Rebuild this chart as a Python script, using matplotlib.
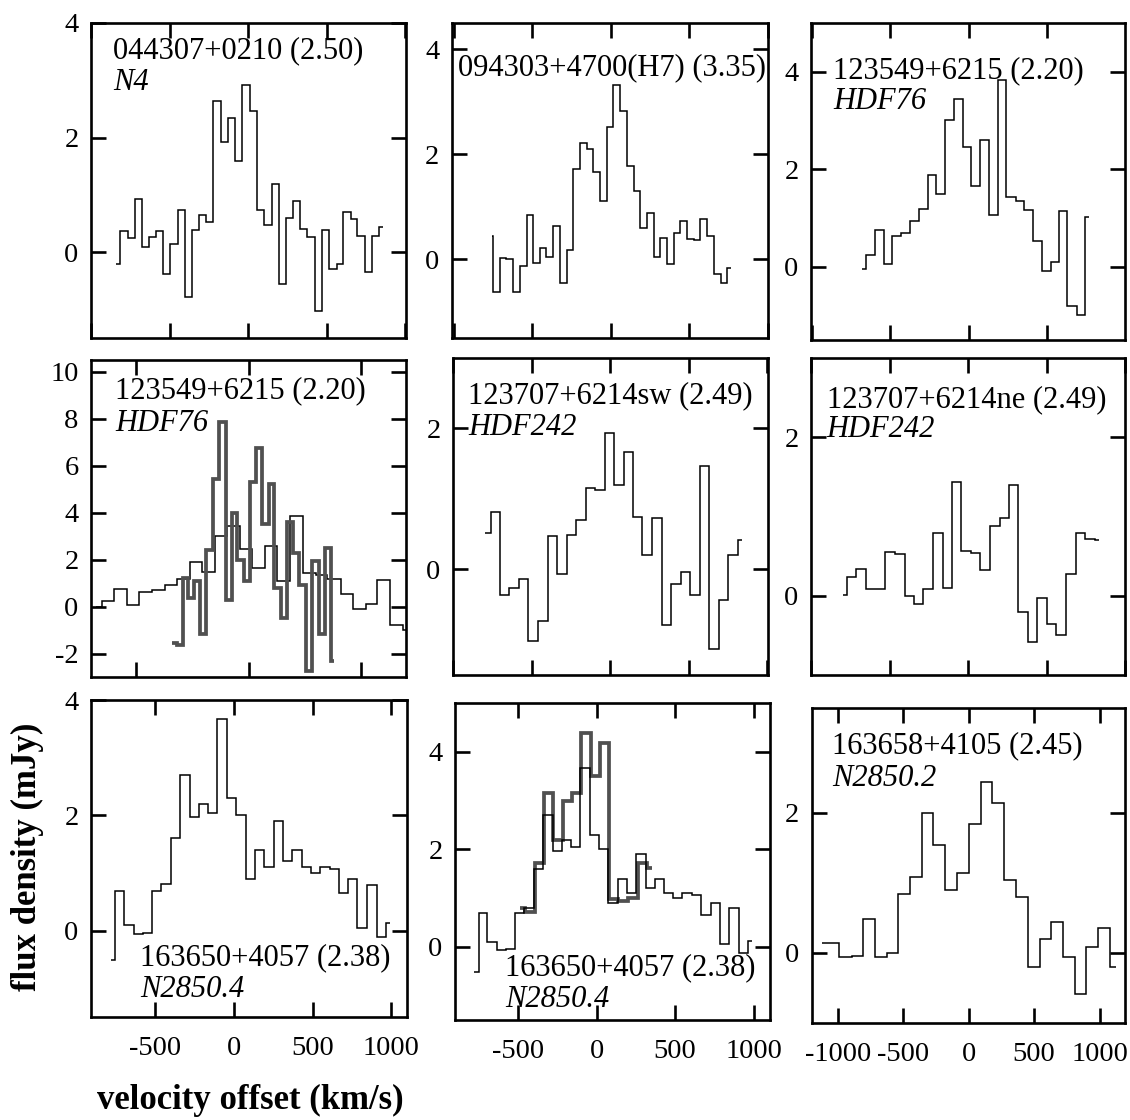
import matplotlib
matplotlib.use("Agg")
import matplotlib.pyplot as plt
from matplotlib.ticker import MultipleLocator

plt.rcParams['font.family'] = ['Liberation Serif', 'DejaVu Serif']
plt.rcParams['axes.unicode_minus'] = False

# channel edges (km/s) and flux densities (mJy)
v_0443 = [-838, -813, -766, -722, -673, -631, -584, -541, -495, -446, -399, -355, -312,
          -265, -223, -174, -127, -81, -36, 11, 57, 102, 149, 195, 240, 287, 333, 376,
          425, 469, 514, 563, 605, 652, 696, 743, 786, 832, 860]
f_0443 = [-0.20, 0.36, 0.24, 0.92, 0.09, 0.27, 0.37, -0.38, 0.14, 0.74, -0.79, 0.39, 0.64,
          0.52, 2.64, 1.93, 2.34, 1.59, 2.91, 2.47, 0.74, 0.47, 1.19, -0.56, 0.60, 0.90,
          0.40, 0.26, -1.03, 0.39, -0.29, -0.21, 0.70, 0.58, 0.28, -0.34, 0.28, 0.43]

v_0943 = [-753, -749, -707, -664, -621, -579, -536, -494, -451, -409, -366, -323, -281,
          -238, -196, -153, -111, -68, -26, 17, 60, 102, 145, 187, 230, 272, 315, 358,
          400, 443, 485, 528, 570, 613, 655, 698, 741, 762]
f_0943 = [0.45, -0.62, 0.02, 0.00, -0.63, -0.12, 0.84, -0.08, 0.21, 0.05, 0.63, -0.46,
          0.18, 1.71, 2.22, 2.10, 1.67, 1.11, 2.52, 3.31, 2.83, 1.78, 1.30, 0.59, 0.88,
          0.04, 0.40, -0.09, 0.50, 0.72, 0.38, 0.36, 0.77, 0.45, -0.28, -0.46, -0.17]

v_hdf76 = [-679, -653, -598, -541, -487, -430, -372, -317, -262, -206, -149, -94, -40, 17,
           74, 128, 185, 240, 298, 351, 411, 464, 521, 572, 628, 687, 741, 768]
f_hdf76 = [-0.04, 0.24, 0.75, 0.05, 0.63, 0.70, 0.93, 1.18, 1.88, 1.49, 3.02, 3.45, 2.46,
           1.66, 2.60, 1.07, 3.84, 1.43, 1.36, 1.16, 0.53, -0.09, 0.10, 1.15, -0.80,
           -0.98, 1.02]

# higher resolution HDF76 spectrum (thick grey)
v_hdf76_hr = [-341, -319, -292, -267, -241, -215, -188, -156, -130, -101, -74, -49, -19, 7,
              33, 62, 89, 114, 144, 170, 196, 225, 255, 284, 314, 341, 367, 378]
f_hdf76_hr = [-1.55, -1.62, 1.20, 0.38, 1.07, -1.15, 2.40, 5.45, 7.85, 0.30, 4.00, 1.97,
              1.10, 5.30, 6.75, 3.50, 5.20, 0.80, -0.50, 3.60, 2.30, 0.90, -2.75, 1.95,
              -1.15, 2.50, -2.30]

v_sw = [-794, -760, -702, -643, -581, -521, -458, -398, -340, -277, -219, -155, -96, -32,
        26, 89, 145, 206, 266, 330, 387, 451, 511, 570, 632, 692, 749, 813, 841]
f_sw = [0.51, 0.81, -0.37, -0.26, -0.14, -1.02, -0.74, 0.47, -0.06, 0.49, 0.70, 1.15,
        1.12, 1.93, 1.20, 1.67, 0.74, 0.21, 0.73, -0.79, -0.21, -0.04, -0.37, 1.47,
        -1.13, -0.44, 0.20, 0.41]

v_ne = [-796, -769, -711, -648, -588, -527, -467, -403, -344, -287, -223, -159, -100, -42,
        21, 79, 138, 202, 261, 318, 382, 441, 503, 563, 626, 686, 747, 807, 834]
f_ne = [0.01, 0.24, 0.34, 0.08, 0.08, 0.55, 0.53, 0.00, -0.11, 0.08, 0.79, 0.10, 1.44,
        0.56, 0.54, 0.32, 0.88, 0.98, 1.40, -0.21, -0.58, -0.03, -0.36, -0.49, 0.27,
        0.79, 0.72, 0.70]

v_4057 = [-785, -755, -700, -639, -579, -520, -462, -403, -342, -282, -225, -165, -106,
          -45, 15, 74, 132, 191, 252, 312, 371, 429, 488, 545, 609, 666, 726, 785, 846,
          906, 965, 991]
f_4057 = [-0.51, 0.69, 0.09, -0.06, -0.05, 0.69, 0.80, 1.60, 2.70, 1.97, 2.20, 2.04, 3.67,
          2.30, 2.00, 0.89, 1.39, 1.10, 1.90, 1.20, 1.39, 1.10, 1.00, 1.10, 1.06, 0.65,
          0.89, 0.05, 0.79, -0.12, 0.13]

v_4057_hr = [-489, -458, -394, -340, -277, -217, -160, -100, -36, 21, 79, 138, 202, 260,
             319, 351]
f_4057_hr = [0.80, 0.71, 1.71, 3.16, 2.19, 3.00, 3.15, 4.38, 3.51, 4.19, 0.99, 0.95, 1.01,
             1.71, 1.61]

v_4105 = [-1126, -991, -897, -808, -719, -629, -540, -451, -362, -273, -183, -94, 0, 92,
          181, 270, 359, 454, 543, 632, 721, 810, 899, 989, 1078, 1129]
f_4105 = [0.14, -0.05, -0.04, 0.49, -0.05, 0.00, 0.85, 1.09, 2.00, 1.55, 0.90, 1.15, 1.85,
          2.45, 2.15, 1.04, 0.80, -0.20, 0.20, 0.45, -0.05, -0.59, 0.09, 0.36, -0.20]

W, H = 1130, 1120
THIN = dict(color='black', lw=1.1)
THICK = dict(color='#505050', lw=2.7)

# (pixel box, xlim, ylim, thin spectrum, thick spectrum, label1, label2, text x, y1, y2)
panels = [
    ((91, 23, 406, 338), (-1000, 1005), (-1.5, 4), (v_0443, f_0443), None,
     "044307+0210 (2.50)", "N4", 0.07, 0.889, 0.787),
    ((452, 23, 768, 338), (-1010, 1000), (-1.5, 4.5), (v_0943, f_0943), None,
     "094303+4700(H7) (3.35)", None, 0.02, 0.835, None),
    ((811, 23, 1125, 340), (-1005, 995), (-1.5, 5), (v_hdf76, f_hdf76), None,
     "123549+6215 (2.20)", "HDF76", 0.07, 0.826, 0.730),
    ((91, 360, 406, 677), (-700, 700), (-3, 10.5), (v_hdf76, f_hdf76), (v_hdf76_hr, f_hdf76_hr),
     "123549+6215 (2.20)", "HDF76", 0.076, 0.880, 0.776),
    ((453, 358, 768, 675), (-1000, 1005), (-1.5, 3), (v_sw, f_sw), None,
     "123707+6214sw (2.49)", "HDF242", 0.048, 0.858, 0.757),
    ((811, 358, 1125, 675), (-1000, 1000), (-1, 3), (v_ne, f_ne), None,
     "123707+6214ne (2.49)", "HDF242", 0.05, 0.845, 0.750),
    ((91, 700, 407, 1017), (-910, 1100), (-1.5, 4), (v_4057, f_4057), None,
     "163650+4057 (2.38)", "N2850.4", 0.155, 0.164, 0.063),
    ((455, 703, 770, 1020), (-905, 1105), (-1.5, 5), (v_4057, f_4057), (v_4057_hr, f_4057_hr),
     "163650+4057 (2.38)", "N2850.4", 0.159, 0.142, 0.041),
    ((812, 708, 1125, 1023), (-1200, 1195), (-1, 3.5), (v_4105, f_4105), None,
     "163658+4105 (2.45)", "N2850.2", 0.064, 0.857, 0.752),
]

fig = plt.figure(figsize=(W / 100, H / 100), dpi=100)

for i, (box, xl, yl, thin, thick, lab1, lab2, tx, ty1, ty2) in enumerate(panels):
    x0, y0, x1, y1 = box
    ax = fig.add_axes([x0 / W, 1 - y1 / H, (x1 - x0) / W, (y1 - y0) / H])
    if thick is not None and i == 7:
        ax.stairs(thick[1], thick[0], baseline=None, **THICK)
        ax.stairs(thin[1], thin[0], baseline=None, **THIN)
    else:
        ax.stairs(thin[1], thin[0], baseline=None, **THIN)
        if thick is not None:
            ax.stairs(thick[1], thick[0], baseline=None, **THICK)
    ax.set_xticks([-1000, -500, 0, 500, 1000])
    ax.yaxis.set_major_locator(MultipleLocator(2))
    # limits after the ticks, so set_xticks does not widen them
    ax.set_xlim(*xl)
    ax.set_ylim(*yl)
    for s in ax.spines.values():
        s.set_linewidth(1.9)
    ax.tick_params(direction='in', length=11, width=1.9, top=True, right=True,
                   labelsize=20.5, labelbottom=(i >= 6))
    ax.tick_params(axis='x', pad=14)
    ax.tick_params(axis='y', pad=9)
    ax.text(tx, ty1, lab1, transform=ax.transAxes, fontsize=22, va='baseline', ha='left')
    if lab2:
        ax.text(tx, ty2, lab2, transform=ax.transAxes, fontsize=22, va='baseline',
                ha='left', style='italic')

fig.text(27 / W, 1 - 857 / H, "flux density (mJy)", rotation=90, fontsize=25,
         fontweight='bold', ha='center', va='center')
fig.text(250 / W, 1 - 1100 / H, "velocity offset (km/s)", fontsize=25,
         fontweight='bold', ha='center', va='center')

fig.savefig("out.png", dpi=100)
